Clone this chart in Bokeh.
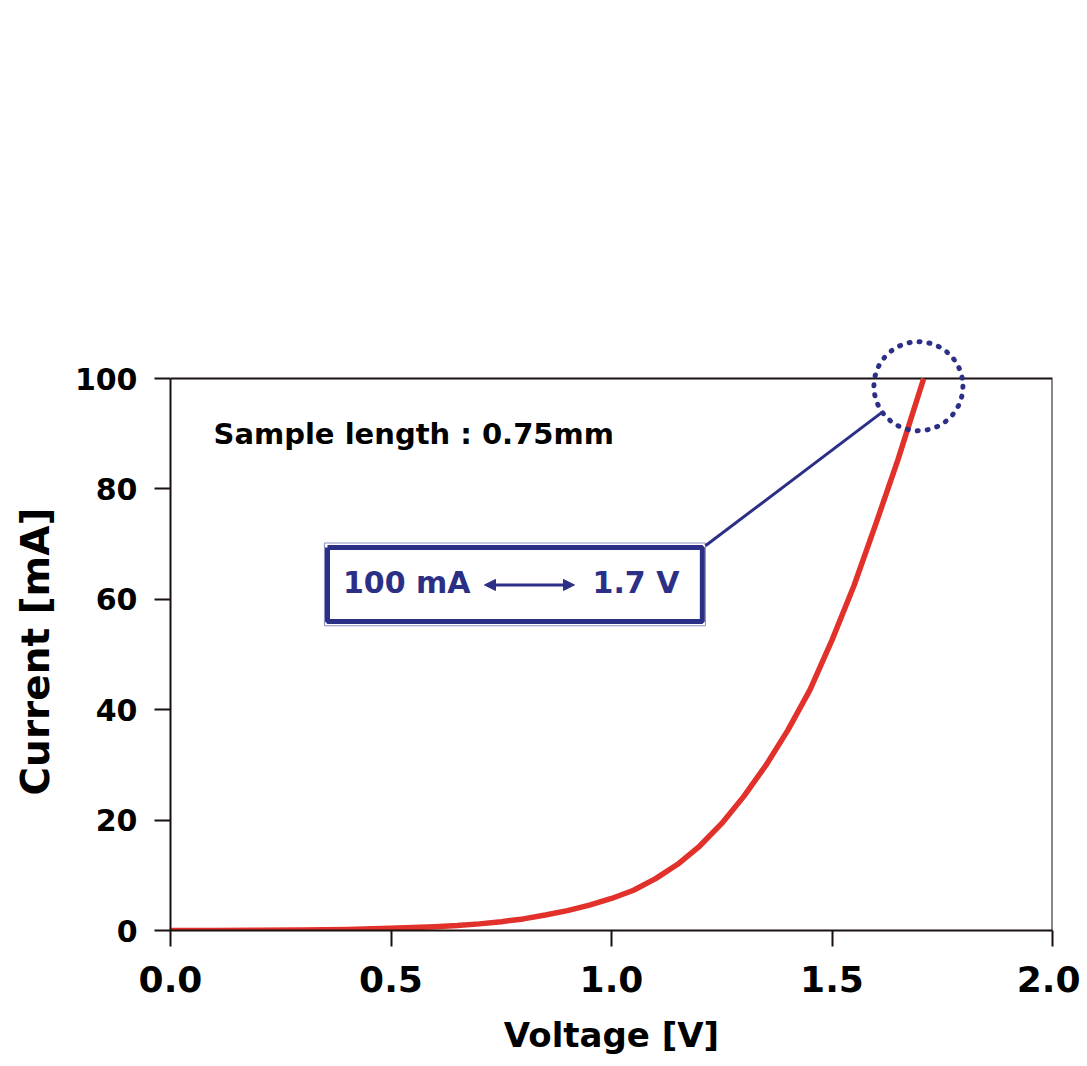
from bokeh.plotting import figure
from bokeh.models import Range1d, FixedTicker, Arrow, NormalHead, Label, Title, CustomJSTickFormatter
from bokeh.embed import file_html
from bokeh.resources import INLINE

# I-V curve
voltage = [0.0, 0.1, 0.2, 0.3, 0.4, 0.5, 0.6, 0.65, 0.7, 0.75, 0.8, 0.85, 0.9, 0.95, 1.0,
           1.05, 1.1, 1.15, 1.2, 1.25, 1.3, 1.35, 1.4, 1.45, 1.5, 1.55, 1.6, 1.65, 1.7, 1.708]
current = [0.0, 0.0, 0.05, 0.1, 0.2, 0.4, 0.7, 0.9, 1.2, 1.6, 2.1, 2.8, 3.6, 4.6, 5.8,
           7.3, 9.4, 12.0, 15.3, 19.4, 24.3, 29.9, 36.3, 43.6, 52.6, 62.5, 73.8, 85.4, 98.0, 100.0]

x_ticks = [0.0, 0.5, 1.0, 1.5, 2.0]
y_ticks = [0, 20, 40, 60, 80, 100]
x_max = 2.0
y_max = 100

x_title = "Voltage [V]"
y_title = "Current [mA]"
sample_text = "Sample length : 0.75mm"
box_left_text = "100 mA"
box_right_text = "1.7 V"

NAVY = "#2c2f86"
RED = "#e2302a"
DARK = "#1a1010"
FONT = "DejaVu Sans"

# extra headroom above 100 mA so the dotted circle is not clipped
y_top = y_max + 78 / 5.52

p = figure(width=1080, height=1060, output_backend="svg", toolbar_location=None,
           x_range=Range1d(0, x_max), y_range=Range1d(0, y_top),
           min_border_left=170, min_border_right=28, min_border_top=300, min_border_bottom=130)
p.grid.visible = False
p.outline_line_color = None
p.background_fill_color = "white"
p.border_fill_color = "white"

for ax, ticks in ((p.xaxis[0], x_ticks), (p.yaxis[0], y_ticks)):
    ax.ticker = FixedTicker(ticks=ticks)
    ax.axis_line_color = DARK
    ax.axis_line_width = 2
    ax.major_tick_line_color = DARK
    ax.major_tick_line_width = 2
    ax.major_tick_in = 0
    ax.major_tick_out = 16
    ax.minor_tick_line_color = None
    ax.major_label_text_font = FONT
    ax.major_label_text_font_style = "bold"
    ax.major_label_text_color = "black"
    ax.axis_label_text_font = FONT
    ax.axis_label_text_font_style = "bold"
    ax.axis_label_text_color = "black"

p.yaxis[0].bounds = (0, y_max)
p.xaxis[0].formatter = CustomJSTickFormatter(code="return tick.toFixed(1);")
p.xaxis[0].major_label_text_font_size = "36px"
p.yaxis[0].major_label_text_font_size = "30px"
p.xaxis[0].major_label_standoff = 19
p.yaxis[0].major_label_standoff = 17
p.xaxis[0].axis_label = x_title
p.xaxis[0].axis_label_text_font_size = "34px"
p.xaxis[0].axis_label_standoff = 20

# y title placed along the 0-100 span (the frame has extra headroom above)
p.add_layout(Title(text=y_title, align="left", vertical_align="top", offset=135, standoff=24,
                   text_font=FONT, text_font_style="bold", text_font_size="39px",
                   text_color="black"), "left")

# top and right frame lines
p.line([0, x_max, x_max], [y_max, y_max, 0], line_color=DARK, line_width=2)

# the curve
p.line(voltage, current, line_color=RED, line_width=5.5, line_join="round")

# annotation text
p.add_layout(Label(x=0.0975, y=89.9, text=sample_text, text_font=FONT, text_font_style="bold",
                   text_font_size="29px", text_color="black", text_baseline="middle"))

# box
p.line([0.356, 1.206, 1.206, 0.356, 0.356], [69.4, 69.4, 56.0, 56.0, 69.4],
       line_color=NAVY, line_width=5)
p.line([0.349, 1.213, 1.213, 0.349, 0.349], [70.2, 70.2, 55.2, 55.2, 70.2],
       line_color="#8a8cc0", line_width=1)
p.add_layout(Label(x=0.391, y=63.0, text=box_left_text, text_font=FONT, text_font_style="bold",
                   text_font_size="30px", text_color=NAVY, text_baseline="middle"))
p.add_layout(Label(x=0.957, y=63.0, text=box_right_text, text_font=FONT, text_font_style="bold",
                   text_font_size="30px", text_color=NAVY, text_baseline="middle"))
p.add_layout(Arrow(x_start=0.712, y_start=62.6, x_end=0.916, y_end=62.6,
                   start=NormalHead(size=11, fill_color=NAVY, line_color=NAVY),
                   end=NormalHead(size=11, fill_color=NAVY, line_color=NAVY),
                   line_color=NAVY, line_width=3))

# connector and dotted circle
p.line([1.213, 1.614], [69.7, 93.9], line_color=NAVY, line_width=3)
p.scatter([1.696], [98.6], marker="circle", size=89, fill_color=None, line_color=NAVY,
          line_width=5, line_dash="1 9", line_cap="round")

open("out.html", "w").write(file_html(p, INLINE))
